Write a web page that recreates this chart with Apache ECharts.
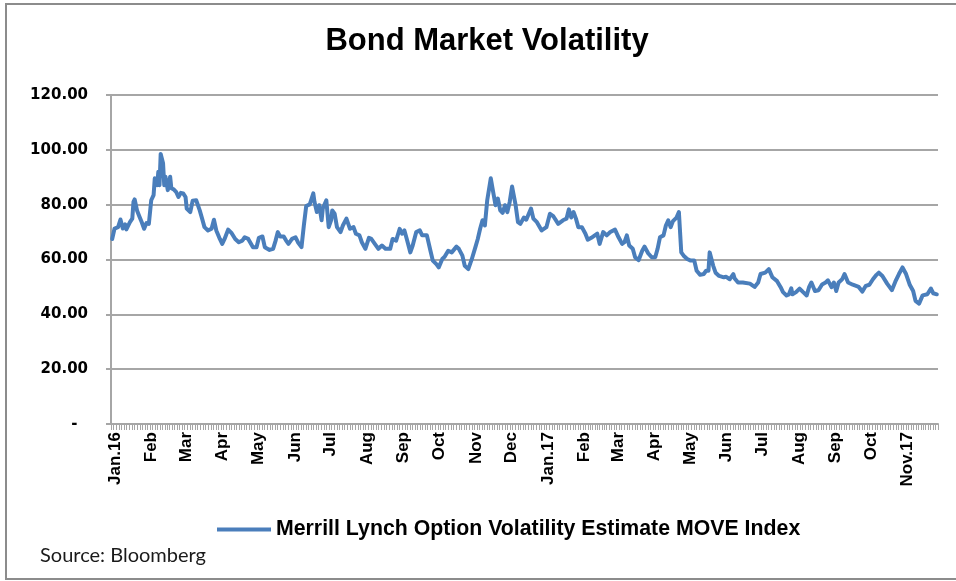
<!DOCTYPE html>
<html>
<head>
<meta charset="utf-8">
<script src="https://cdn.jsdelivr.net/npm/echarts@6/dist/echarts.min.js"></script>
<style>
html,body{margin:0;padding:0;background:#fff;}
#chart{width:956px;height:581px;}
</style>
</head>
<body>
<div id="chart"></div>
<script>
const titleText = 'Bond Market Volatility';
const seriesName = 'Merrill Lynch Option Volatility Estimate MOVE Index';
const sourceText = 'Source: Bloomberg';
const xLabels = ['Jan.16','Feb','Mar','Apr','May','Jun','Jul','Aug','Sep','Oct','Nov','Dec',
                 'Jan.17','Feb','Mar','Apr','May','Jun','Jul','Aug','Sep','Oct','Nov.17'];
const yTicks = [0, 20, 40, 60, 80, 100, 120];

const dates = [
 '2016-01-02','2016-01-04','2016-01-07','2016-01-09','2016-01-11','2016-01-13','2016-01-14','2016-01-17','2016-01-19','2016-01-20',
 '2016-01-21','2016-01-23','2016-01-25','2016-01-27','2016-01-29','2016-01-31','2016-02-02','2016-02-04','2016-02-06','2016-02-07',
 '2016-02-09','2016-02-10','2016-02-11','2016-02-12','2016-02-14','2016-02-15','2016-02-16','2016-02-18','2016-02-20','2016-02-21',
 '2016-02-23','2016-02-25','2016-02-27','2016-02-29','2016-03-02','2016-03-04','2016-03-05','2016-03-08','2016-03-10','2016-03-13',
 '2016-03-16','2016-03-18','2016-03-20','2016-03-23','2016-03-26','2016-03-28','2016-03-30','2016-04-02','2016-04-04','2016-04-06',
 '2016-04-09','2016-04-12','2016-04-15','2016-04-18','2016-04-21','2016-04-23','2016-04-26','2016-04-30','2016-05-03','2016-05-05',
 '2016-05-08','2016-05-10','2016-05-14','2016-05-17','2016-05-19','2016-05-21','2016-05-23','2016-05-26','2016-05-28','2016-05-30',
 '2016-06-02','2016-06-05','2016-06-07','2016-06-10','2016-06-12','2016-06-14','2016-06-17','2016-06-20','2016-06-21','2016-06-23',
 '2016-06-25','2016-06-27','2016-06-28','2016-07-01','2016-07-03','2016-07-05','2016-07-06','2016-07-08','2016-07-10','2016-07-13',
 '2016-07-15','2016-07-18','2016-07-21','2016-07-24','2016-07-26','2016-07-29','2016-07-31','2016-08-03','2016-08-04','2016-08-06',
 '2016-08-08','2016-08-11','2016-08-14','2016-08-17','2016-08-20','2016-08-24','2016-08-26','2016-08-29','2016-09-01','2016-09-03',
 '2016-09-05','2016-09-07','2016-09-10','2016-09-12','2016-09-15','2016-09-18','2016-09-20','2016-09-24','2016-09-27','2016-09-29',
 '2016-10-02','2016-10-04','2016-10-07','2016-10-09','2016-10-12','2016-10-15','2016-10-19','2016-10-21','2016-10-24','2016-10-26',
 '2016-10-29','2016-11-01','2016-11-04','2016-11-06','2016-11-08','2016-11-10','2016-11-12','2016-11-14','2016-11-17','2016-11-19',
 '2016-11-21','2016-11-23','2016-11-25','2016-11-27','2016-11-29','2016-12-01','2016-12-03','2016-12-05','2016-12-08','2016-12-10',
 '2016-12-12','2016-12-15','2016-12-17','2016-12-21','2016-12-23','2016-12-26','2016-12-30',
 '2017-01-03','2017-01-06','2017-01-09','2017-01-13','2017-01-17','2017-01-20','2017-01-22','2017-01-24','2017-01-26','2017-01-28',
 '2017-01-30','2017-02-02','2017-02-05','2017-02-07','2017-02-10','2017-02-15','2017-02-17','2017-02-20','2017-02-23','2017-02-26',
 '2017-03-02','2017-03-05','2017-03-08','2017-03-10','2017-03-12','2017-03-14','2017-03-17','2017-03-19','2017-03-22','2017-03-25',
 '2017-03-27','2017-03-30','2017-04-02','2017-04-05','2017-04-07','2017-04-09','2017-04-12','2017-04-14','2017-04-16','2017-04-18',
 '2017-04-20','2017-04-23','2017-04-25','2017-04-27','2017-04-29','2017-05-02','2017-05-05','2017-05-08','2017-05-10','2017-05-13',
 '2017-05-16','2017-05-18','2017-05-20','2017-05-21','2017-05-24','2017-05-26','2017-05-29','2017-06-02','2017-06-04','2017-06-07',
 '2017-06-10','2017-06-11','2017-06-14','2017-06-18','2017-06-24','2017-06-28','2017-07-01','2017-07-03','2017-07-07','2017-07-10',
 '2017-07-13','2017-07-17','2017-07-20','2017-07-22','2017-07-25','2017-07-27','2017-07-29','2017-07-30','2017-08-02','2017-08-05',
 '2017-08-08','2017-08-11','2017-08-13','2017-08-15','2017-08-18','2017-08-21','2017-08-24','2017-08-27','2017-08-29','2017-09-01',
 '2017-09-03','2017-09-05','2017-09-07','2017-09-10','2017-09-12','2017-09-15','2017-09-19','2017-09-24','2017-09-27','2017-09-30',
 '2017-10-03','2017-10-06','2017-10-09','2017-10-11','2017-10-14','2017-10-18','2017-10-22','2017-10-25','2017-10-28','2017-10-31',
 '2017-11-03','2017-11-06','2017-11-09','2017-11-11','2017-11-14','2017-11-17','2017-11-21','2017-11-24','2017-11-26','2017-11-29'
];

const values = [
 67.5,71.3,71.8,74.6,71.3,72.8,71.0,73.6,74.9,81.0,
 81.9,77.9,75.7,73.6,71.2,73.3,73.0,81.6,83.5,89.6,
 87.1,92.0,87.1,98.5,95.1,87.1,90.2,85.3,90.2,86.0,
 85.6,84.7,82.8,84.3,84.1,82.8,78.6,77.3,81.4,81.6,
 77.9,74.9,71.8,70.6,71.2,74.5,70.6,67.5,65.7,67.5,
 70.9,69.6,67.5,66.3,66.9,68.1,67.5,64.5,64.5,67.9,
 68.4,64.5,63.5,63.9,66.7,70.0,68.4,68.4,66.9,65.7,
 67.5,68.1,66.3,64.5,72.4,79.5,80.1,84.1,81.0,77.3,
 79.8,74.3,78.6,81.6,71.8,74.3,77.9,76.7,71.8,70.0,
 72.4,74.9,71.2,71.8,69.4,68.8,66.3,63.9,64.5,67.9,
 67.5,65.7,63.9,65.1,63.9,63.9,67.5,66.9,71.2,69.4,
 70.6,67.5,62.6,65.1,70.0,70.6,68.8,68.8,63.2,59.6,
 58.3,57.1,60.2,61.0,63.2,62.6,64.7,63.9,61.4,57.7,
 56.5,60.2,64.5,67.5,71.2,74.3,72.4,81.6,89.6,84.7,
 79.8,82.2,77.9,77.0,79.8,77.3,81.0,86.6,79.8,73.6,
 73.0,75.3,74.5,78.6,74.9,73.6,70.6,
 71.8,76.7,75.7,73.0,74.3,74.9,78.3,75.3,77.3,74.9,
 71.8,71.8,69.4,67.2,67.9,69.4,65.7,70.0,68.8,70.0,
 70.9,68.1,65.7,66.3,68.8,65.1,63.9,60.8,59.8,63.2,
 64.7,62.3,60.8,60.8,63.9,68.1,68.8,72.4,74.3,71.8,
 74.0,75.3,77.3,62.6,61.4,60.2,59.6,59.6,55.9,54.4,
 54.7,55.9,55.9,62.6,57.7,55.2,54.0,53.5,53.7,52.8,
 54.7,53.2,51.6,51.6,51.2,50.0,51.6,54.7,55.2,56.5,
 53.5,52.1,49.9,48.1,46.9,47.3,49.5,47.3,48.1,49.4,
 48.1,46.9,49.9,51.6,48.5,48.8,50.9,51.6,52.4,49.9,
 51.6,48.5,51.6,52.8,54.7,51.6,50.8,50.0,48.3,50.4,
 50.8,52.8,54.4,55.2,54.0,51.2,48.8,52.0,54.7,57.1,
 54.7,50.9,48.5,44.9,43.9,46.9,47.3,49.4,47.7,47.3
];

const DAY = 86400000;
const gray = '#a6a6a6';
const chart = echarts.init(document.getElementById('chart'), null, {renderer: 'canvas'});
const data = dates.map((d, i) => [d, values[i]]);

chart.setOption({
  animation: false,
  backgroundColor: '#ffffff',
  grid: {left: 111, right: 18, top: 95, bottom: 157, containLabel: false},
  xAxis: {
    type: 'time',
    min: '2016-01-01',
    max: '2017-11-30',
    splitNumber: 23,
    minInterval: 28 * DAY,
    maxInterval: 31 * DAY,
    axisLine: {show: true, lineStyle: {color: gray, width: 2}},
    axisTick: {show: true, length: 6, lineStyle: {color: gray, width: 1}},
    minorTick: {show: true, splitNumber: 14, length: 6, lineStyle: {color: gray, width: 1}},
    splitLine: {show: false},
    minorSplitLine: {show: false},
    axisLabel: {
      rotate: 90, margin: 8, color: '#000', fontFamily: 'Liberation Sans, Arial, sans-serif',
      fontWeight: 'bold', fontSize: 17, hideOverlap: false, showMaxLabel: false,
      padding: [8, 0, 0, 0],
      formatter: function (v) {
        const d = new Date(v);
        if (d.getDate() !== 1) return '';
        const i = (d.getFullYear() - 2016) * 12 + d.getMonth();
        return xLabels[i] || '';
      }
    }
  },
  yAxis: {
    type: 'value', min: yTicks[0], max: yTicks[yTicks.length - 1], interval: 20,
    axisLine: {show: true, lineStyle: {color: gray, width: 2}},
    axisTick: {show: true, length: 5, lineStyle: {color: gray, width: 2}},
    splitLine: {show: true, lineStyle: {color: gray, width: 2}},
    axisLabel: {
      margin: 23, color: '#000', fontFamily: 'DejaVu Sans, Verdana, sans-serif',
      fontWeight: 'bold', fontSize: 15,
      formatter: function (v) { return v === 0 ? '-  ' : v.toFixed(2); }
    }
  },
  legend: {
    show: true, left: 212, top: 514, icon: 'rect', itemWidth: 54, itemHeight: 4,
    textStyle: {color: '#000', fontFamily: 'Liberation Sans, Arial, sans-serif', fontWeight: 'bold', fontSize: 21.3},
    data: [seriesName]
  },
  series: [{
    name: seriesName, type: 'line', data: data, showSymbol: false, symbol: 'none',
    lineStyle: {color: '#4A7EBB', width: 4, join: 'round', cap: 'round'},
    itemStyle: {color: '#4A7EBB'}
  }],
  graphic: [
    {type: 'rect', shape: {x: 6, y: 4, width: 960, height: 575}, style: {fill: 'none', stroke: '#8c8c8c', lineWidth: 2}, silent: true},
    {type: 'text', x: 487, y: 41.5, style: {text: titleText, textAlign: 'center', textVerticalAlign: 'middle',
      fill: '#000', font: 'bold 31px "Liberation Sans", Arial, sans-serif'}},
    {type: 'text', x: 40, y: 556, style: {text: sourceText, textAlign: 'left', textVerticalAlign: 'middle',
      fill: '#1a1a1a', font: '20px Lato, "Open Sans", sans-serif'}}
  ]
});
</script>
</body>
</html>
